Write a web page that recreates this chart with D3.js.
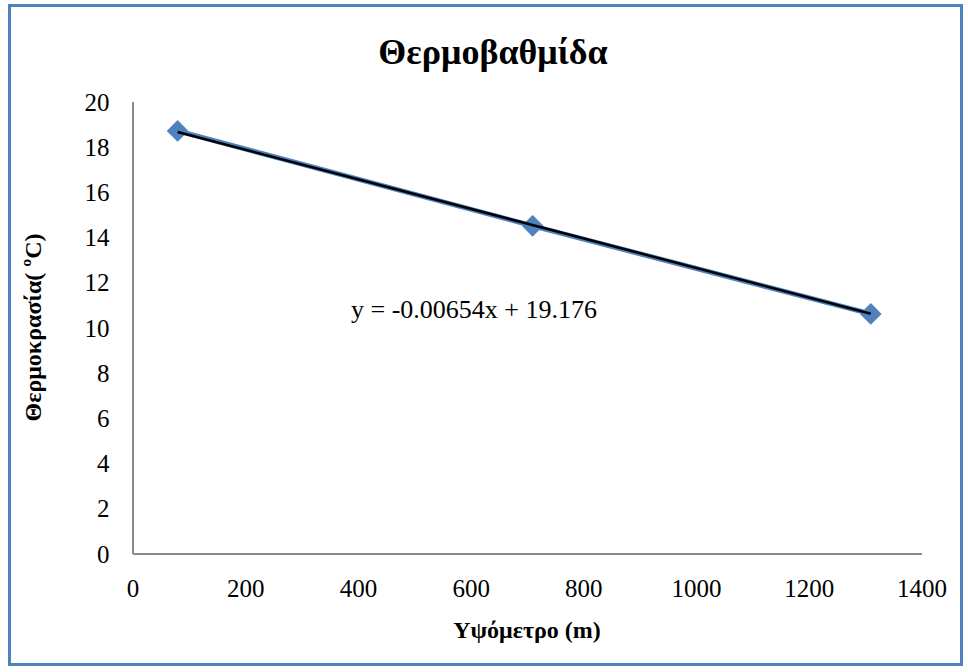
<!DOCTYPE html>
<html>
<head>
<meta charset="utf-8">
<script src="https://cdn.jsdelivr.net/npm/d3@7"></script>
<style>
  html, body { margin: 0; padding: 0; background: #fff; }
</style>
</head>
<body>
<svg id="chart" width="968" height="672"></svg>
<script>
// Altitude (m) and measured temperature (°C)
const altitudes = [80, 710, 1310];
const temperatures = [18.7, 14.5, 10.6];

// Linear trendline y = slope·x + intercept
const trendSlope = -0.00654;
const trendIntercept = 19.176;
const trendLabel = "y = -0.00654x + 19.176";

const xTicks = [0, 200, 400, 600, 800, 1000, 1200, 1400];
const yTicks = [0, 2, 4, 6, 8, 10, 12, 14, 16, 18, 20];

const chartTitle = "Θερμοβαθμίδα";
const xTitle = "Υψόμετρο (m)";
const yTitle = "Θερμοκρασία( ºC)";

const FONT = "Liberation Serif";
const plot = { left: 132.5, right: 921.5, top: 101.5, bottom: 553.5 };

const svg = d3.select("#chart");

// outer frame
svg.append("rect")
  .attr("x", 9.5).attr("y", 5.5)
  .attr("width", 952).attr("height", 659)
  .attr("fill", "#fff")
  .attr("stroke", "#4F81BD")
  .attr("stroke-width", 3);

const x = d3.scaleLinear().domain([0, 1400]).range([plot.left, plot.right]);
const y = d3.scaleLinear().domain([0, 20]).range([plot.bottom, plot.top]);

function serif(sel, size, bold) {
  return sel.attr("font-family", FONT)
    .attr("font-size", size)
    .attr("font-weight", bold ? "bold" : "normal");
}

// axes
const xAxis = d3.axisBottom(x).tickValues(xTicks).tickFormat(d3.format("d")).tickSize(0).tickPadding(26);
const yAxis = d3.axisLeft(y).tickValues(yTicks).tickFormat(d3.format("d")).tickSize(0).tickPadding(23);

const gx = svg.append("g").attr("transform", `translate(0,${plot.bottom})`).call(xAxis);
const gy = svg.append("g").attr("transform", `translate(${plot.left},0)`).call(yAxis);

[gx, gy].forEach(g => {
  g.attr("font-family", FONT).attr("font-size", 25);
  g.select(".domain").attr("stroke", "#8c8c8c").attr("stroke-width", 2);
  serif(g.selectAll("text"), 25, false).attr("fill", "#000");
});
gx.selectAll("text").attr("dy", "0.71em");
gy.selectAll("text").attr("dy", "0.34em");

// series line connecting the measurements
const line = d3.line().x(d => x(d[0])).y(d => y(d[1]));
const pts = altitudes.map((a, i) => [a, temperatures[i]]);

svg.append("path")
  .datum(pts)
  .attr("d", line)
  .attr("fill", "none")
  .attr("stroke", "#4F81BD")
  .attr("stroke-width", 5);

// diamond markers
svg.selectAll(".pt")
  .data(pts)
  .enter().append("path")
  .attr("class", "pt")
  .attr("d", d3.symbol().type(d3.symbolDiamond2).size(300))
  .attr("transform", d => `translate(${x(d[0])},${y(d[1])})`)
  .attr("fill", "#4F81BD");

// trendline over the data range
const xMin = d3.min(altitudes), xMax = d3.max(altitudes);
const trendPts = [xMin, xMax].map(a => [a, trendSlope * a + trendIntercept]);
svg.append("path")
  .datum(trendPts)
  .attr("d", line)
  .attr("fill", "none")
  .attr("stroke", "#000")
  .attr("stroke-width", 2.5);

// trendline equation
serif(svg.append("text"), 26, false)
  .attr("x", 351).attr("y", 318)
  .text(trendLabel);

// title
serif(svg.append("text"), 36, true)
  .attr("x", 493).attr("y", 64)
  .attr("text-anchor", "middle")
  .text(chartTitle);

// axis titles
serif(svg.append("text"), 24, true)
  .attr("x", (plot.left + plot.right) / 2).attr("y", 638)
  .attr("text-anchor", "middle")
  .text(xTitle);

serif(svg.append("text"), 24, true)
  .attr("transform", `translate(41,${(plot.top + plot.bottom) / 2}) rotate(-90)`)
  .attr("text-anchor", "middle")
  .text(yTitle);
</script>
</body>
</html>
